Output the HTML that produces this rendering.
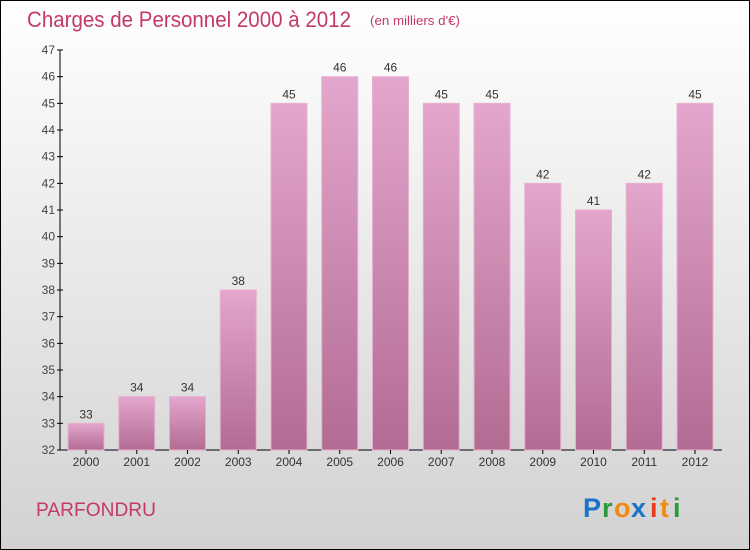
<!DOCTYPE html>
<html><head><meta charset="utf-8"><style>
body{margin:0}
#c{width:750px;height:550px;position:relative;box-sizing:border-box;border:1px solid #000;background:linear-gradient(#ffffff,#d2d2d2);font-family:"Liberation Sans",sans-serif;overflow:hidden}
</style></head><body>
<div id="c">
<svg width="750" height="550" style="position:absolute;left:-1px;top:-1px" id="svg">
<defs><linearGradient id="g" x1="0" y1="0" x2="0" y2="1"><stop offset="0" stop-color="#e4a6cc"/><stop offset="1" stop-color="#b26c94"/></linearGradient></defs>
<text x="27" y="27" font-size="22" fill="#c4386a" textLength="324" lengthAdjust="spacingAndGlyphs">Charges de Personnel 2000 à 2012</text>
<text x="370" y="25" font-size="13" fill="#c4386a" textLength="90" lengthAdjust="spacingAndGlyphs">(en milliers d'€)</text>
<text x="36" y="516" font-size="19" fill="#c4386a" textLength="120" lengthAdjust="spacingAndGlyphs">PARFONDRU</text>
<g font-size="27" font-weight="bold">
<text x="583" y="517" fill="#1a73c9">P</text><text x="602" y="517" fill="#2a9a3a">r</text><text x="614" y="517" fill="#f08a10">o</text><text x="631" y="517" fill="#1a73c9">x</text><text x="650" y="517" fill="#e83a1a">i</text><text x="660" y="517" fill="#f08a10">t</text><text x="673" y="517" fill="#2a9a3a">i</text></g>
<g id="plot"></g>
</svg></div>
<script>
const years=["2000","2001","2002","2003","2004","2005","2006","2007","2008","2009","2010","2011","2012"];
const values=[33,34,34,38,45,46,46,45,45,42,41,42,45];
const ticks=[32,33,34,35,36,37,38,39,40,41,42,43,44,45,46,47];
const ns="http://www.w3.org/2000/svg";
const g=document.getElementById('plot');
const y=v=>450-(v-32)*400/15;
const x=i=>86+i*50.75;
function el(t,a,p){const e=document.createElementNS(ns,t);for(const k in a)e.setAttribute(k,a[k]);(p||g).appendChild(e);return e;}
let ax=el('line',{x1:60,y1:50,x2:60,y2:450,stroke:'#000'});


let bx=el('line',{x1:60,y1:450,x2:722,y2:450,stroke:'#000'});


ticks.forEach(t=>{
 el('line',{x1:57,x2:63,y1:y(t),y2:y(t),stroke:'#000'});
 const tx=el('text',{x:55,y:y(t)+4,'font-size':12,'text-anchor':'end',fill:'#444'});tx.textContent=t;
 
 
});
values.forEach((v,i)=>{
 const r=el('rect',{x:x(i)-18,y:y(v),width:36,height:450-y(v),fill:'url(#g)',stroke:'#e8b0d0','stroke-width':1});
 
 
 const l=el('text',{x:x(i),y:y(v)-5,'font-size':12,'text-anchor':'middle',fill:'#333'});l.textContent=v;
 
 
 el('line',{x1:x(i),x2:x(i),y1:450,y2:454,stroke:'#000'});
 const yl=el('text',{x:x(i),y:466,'font-size':12,'text-anchor':'middle',fill:'#333'});yl.textContent=years[i];
 
 
});
</script>
</body></html>
